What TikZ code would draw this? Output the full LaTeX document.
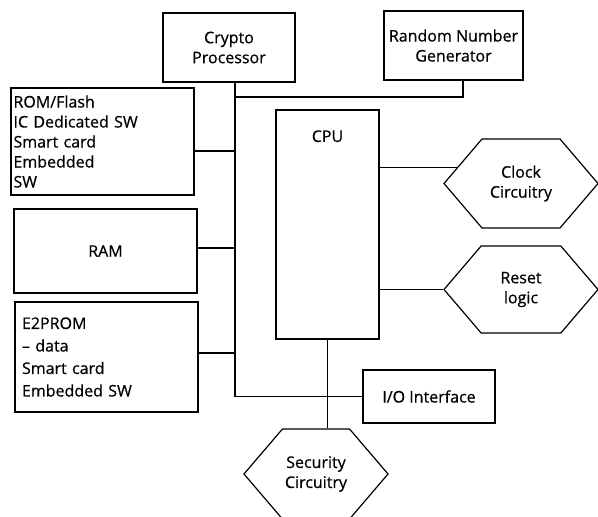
\documentclass[tikz,border=0pt]{standalone}
\usepackage{fontspec}
\setmainfont[FakeBold=0.6]{Open Sans}
\usetikzlibrary{shapes.symbols}

\tikzset{
  blk/.style={draw, rectangle, inner sep=0pt, align=center},
  hexa/.style={draw, signal, signal to=east and west, signal pointer angle=99,
    inner sep=0pt, minimum width=154pt, minimum height=89pt, align=center}
}

\begin{document}
\begin{tikzpicture}[x=1pt, y=-1pt, line width=1.2pt, font=\fontsize{16}{20}\selectfont]
            \useasboundingbox (0, 0) rectangle (598, 517);

            \node[blk, minimum width=132pt, minimum height=69pt] (crypto) at (229, 47.5) {Crypto\\Processor};
            \node[blk, minimum width=139pt, minimum height=69pt] (rng) at (453.5, 45.5) {Random Number\\Generator};

            \node[blk, minimum width=183pt, minimum height=107pt, text width=178pt, align=left] (rom) at (102.5, 141.5)
                {ROM/Flash\\IC Dedicated SW\\Smart card\\Embedded\\SW};
            \node[blk, minimum width=183pt, minimum height=84pt] (ram) at (105.5, 251) {RAM};
            \node[blk, minimum width=183pt, minimum height=110pt, text width=169pt, align=left,
                  font=\fontsize{16}{22.5}\selectfont] (e2prom) at (106.5, 357)
                {E2PROM\\-- data\\Smart card\\Embedded SW};

            \node[blk, minimum width=103pt, minimum height=229pt,
                  label={[anchor=north, yshift=-17pt]north:CPU}] (cpu) at (327.5, 224.5) {};
            \node[blk, minimum width=132pt, minimum height=53pt] (io) at (429, 396.5) {I/O Interface};

            \node[hexa] (clock) at (521, 183.5) {Clock\\Circuitry};
            \node[hexa, minimum height=87pt] (reset) at (521, 289.5) {Reset\\logic};
            \node[hexa, minimum width=144pt, minimum height=90pt] (security) at (316, 474) {Security\\Circuitry};

            % bus
            \coordinate (bt) at (235, 82);
            \coordinate (jrng) at (463, 97);
            \draw (crypto.south -| bt) -- (bt |- io.west) -- (io.west);
            \draw (jrng -| bt) -- (jrng) -- (jrng |- rng.south);
            \draw ([yshift=-9.5pt]rom.east) -- ([yshift=-9.5pt]rom.east -| bt);
            \draw ([yshift=3pt]ram.east) -- ([yshift=3pt]ram.east -| bt);
            \draw ([yshift=4pt]e2prom.east) -- ([yshift=4pt]e2prom.east -| bt);

            \draw (clock.166 -| cpu.east) -- (clock.166);
            \draw (reset.west -| cpu.east) -- (reset.west);
            \draw (cpu.south) -- (cpu.south |- security.north);
        \end{tikzpicture}
\end{document}
